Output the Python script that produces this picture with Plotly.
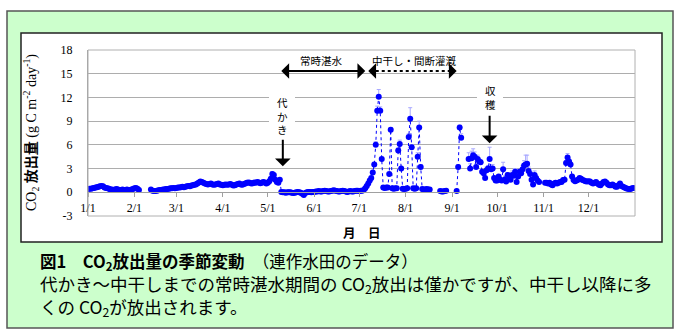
import pandas as pd
import plotly.graph_objects as go

# Daily CO2 efflux (g C m-2 day-1) from a continuously cropped paddy field.
# None marks days with no measurement.
jan = [0.4, 0.45, 0.45, 0.5, 0.55, 0.6, 0.65, 0.7, 0.75, 0.8, 0.75, 0.6, 0.55, 0.5, 0.45, 0.35,
       0.35, 0.3, 0.35, 0.4, 0.35, 0.3, 0.3, 0.35, 0.3, 0.3, 0.35, 0.3, 0.3, 0.35, 0.4]
feb = [0.5, 0.55, 0.45, 0.3, None, None, None, None, None, None, None,
       0.35, 0.2, 0.15, 0.15, 0.2, 0.25, 0.3, 0.3, 0.35, 0.35, 0.4, 0.4, 0.45, 0.5, 0.5, 0.55, 0.5]
mar = [0.55, 0.6, 0.6, 0.65, 0.7, 0.65, 0.7, 0.75, 0.8, 0.75, 0.85, 0.9, 0.95, 1.0, 1.1, 1.25,
       1.35, 1.3, 1.2, 1.1, 1.05, 1.0, 1.05, 1.1, 1.0, 0.95, 1.0, 1.05, 1.1, 1.0, 0.95]
apr = [0.9, 0.95, 1.0, 0.95, 1.0, 1.05, 0.95, 0.85, 0.9, 1.0, 1.05, 1.1, 1.0, 0.95, 1.05,
       1.1, 1.2, 1.25, 1.2, 1.1, 1.15, 1.25, 1.2, 1.3, 1.25, 1.15, 1.2, 1.3, 1.25, 1.1]
may = [1.2, 1.4, 1.7, 2.3, 2.2, 1.6, 1.3, 1.2, 1.6, 0.05, 0.0, 0.0, -0.05, 0.0, 0.0, 0.0,
       -0.05, -0.1, -0.05, 0.0, 0.05, 0.0, -0.05, -0.2, -0.35, -0.1, 0.0, 0.05, 0.05, 0.0, 0.05]
jun = [0.05, 0.1, 0.1, 0.15, 0.1, 0.1, 0.15, 0.2, 0.15, 0.1, 0.1, 0.15, 0.2, 0.25, 0.2,
       0.15, 0.1, 0.1, 0.15, 0.2, 0.15, 0.1, 0.05, 0.1, 0.15, 0.1, 0.1, 0.15, 0.2, 0.2]
jul = [0.15, 0.2, 0.2, 0.3, 0.5, 0.8, 1.1, 1.5, 1.8, 2.5, 3.5, 6.0, 10.3, 12.1, 10.3, 4.2,
       0.6, 0.55, 0.6, 0.6, 2.3, 7.9, 0.5, 0.45, 0.5, 0.5, 5.3, 6.1, 3.0, 0.45, 0.4]
aug = [0.45, 0.5, 7.0, 9.3, 5.7, 0.5, 0.45, 0.5, 4.5, 8.2, 3.2, 0.4, 0.35, 0.35, 0.4, 0.35,
       0.35, None, None, None, None, None, None, 0.15, 0.1, 0.1, 0.15, 0.2, None, None, None]
sep = [None, None, None, 0.15, 3.2, 8.2, 6.9, None, None, None, None, 4.2, 3.0, 4.3, 4.7,
       4.5, 3.2, 4.2, 3.9, 3.8, 2.6, 2.4, 1.8, 2.8, 3.0, 4.2, 2.9, 3.0, 1.8, 1.5]
oct_ = [1.5, 2.0, 1.6, 1.5, 2.9, 1.6, 1.35, 2.2, 2.0, 1.6, 2.2, 2.1, 2.6, 1.3, 2.0, 2.6,
        2.4, 2.9, 3.4, 3.5, 3.6, 2.7, 2.3, 1.6, 1.0, 2.2, 1.8, 1.5, 1.3, None, None]
nov = [None, 1.2, 1.2, 1.1, 1.2, 1.0, 0.9, 1.1, 1.2, 1.1, 1.2, 1.3, 1.3, 1.55, 1.6, 3.7,
       4.4, 3.9, 3.5, 2.0, 1.55, 1.4, 1.5, 1.6, 1.8, 1.7, 1.55, 1.5, 1.4, 1.35]
dec = [1.4, 1.35, 1.2, 1.1, 1.2, 1.3, 1.1, 0.95, 0.9, 1.1, 1.3, 1.35, 1.2, 1.0, 0.9, 0.9,
       1.0, 0.85, 0.7, 0.7, 0.9, 1.1, 0.8, 0.7, 0.6, 0.5, 0.45, 0.4, 0.4, 0.5, 0.55]

# Upper standard deviations on selected days (month-day)
err_dates = ["05-04", "05-05", "07-11", "07-12", "07-13", "07-14", "07-15", "07-22", "07-27",
             "07-28", "08-03", "08-04", "08-05", "08-09", "08-10", "08-11", "09-05", "09-06",
             "09-07", "09-12", "09-13", "09-14", "09-15", "09-16", "09-17", "09-18", "09-19",
             "09-20", "09-24", "09-25", "09-26", "09-27", "09-28", "10-05", "10-08", "10-11",
             "10-13", "10-16", "10-18", "10-19", "10-20", "10-21", "10-22", "10-26", "10-27",
             "11-16", "11-17", "11-18"]
err_sizes = [0.3, 0.2, 0.3, 0.4, 0.6, 0.9, 0.5, 0.3, 0.3,
             0.5, 0.4, 1.4, 0.3, 0.5, 0.8, 0.3, 0.3, 0.3,
             0.5, 0.8, 0.6, 0.9, 0.8, 0.6, 0.4, 0.5, 0.4,
             0.3, 0.4, 0.4, 1.5, 0.6, 0.5, 0.9, 0.3, 0.5,
             0.4, 0.3, 0.5, 0.6, 1.2, 1.1, 0.5, 0.5, 0.4,
             0.3, 0.5, 0.3]

month_labels = ["1/1", "2/1", "3/1", "4/1", "5/1", "6/1", "7/1", "8/1", "9/1", "10/1", "11/1", "12/1"]
y_ticks = [-3, 0, 3, 6, 9, 12, 15, 18]

YEAR = 2003
flux = jan + feb + mar + apr + may + jun + jul + aug + sep + oct_ + nov + dec
dates = pd.date_range(f"{YEAR}-01-01", periods=len(flux), freq="D")
err_map = {pd.Timestamp(f"{YEAR}-{d}"): s for d, s in zip(err_dates, err_sizes)}
err_plus = [err_map.get(d, 0.0) if v is not None else None for d, v in zip(dates, flux)]
err_minus = [0.0] * len(flux)
month_starts = pd.date_range(f"{YEAR}-01-01", periods=12, freq="MS")

# Plot-area geometry in pixels (figure is 680 x 335)
PL, PR, PT, PB = 88, 635, 50, 216


def xp(px):
    return (px - PL) / (PR - PL)


def yp(py):
    return (PB - py) / (PB - PT)


JP = "Noto Sans CJK JP"
SERIF = "Liberation Serif"

fig = go.Figure()
fig.add_trace(go.Scatter(
    x=dates, y=flux, mode="lines+markers", connectgaps=False,
    line=dict(color="#0000FF", width=1, dash="dot"),
    marker=dict(color="#0000FF", size=6),
    error_y=dict(type="data", symmetric=False, array=err_plus, arrayminus=err_minus,
                 color="#A8A8FF", thickness=1, width=2),
    showlegend=False, hoverinfo="skip",
))

shapes = [
    # green panel and white chart frame
    dict(type="rect", xref="paper", yref="paper", x0=xp(7), x1=xp(673), y0=yp(328), y1=yp(11),
         fillcolor="#CCFFCC", line=dict(color="#555555", width=1.5), layer="below"),
    dict(type="rect", xref="paper", yref="paper", x0=xp(21), x1=xp(662), y0=yp(242), y1=yp(33),
         fillcolor="#FFFFFF", line=dict(color="#222222", width=1.5), layer="below"),
    # plot-area border
    dict(type="rect", xref="paper", yref="paper", x0=0, x1=1, y0=0, y1=1,
         line=dict(color="#B0B0B0", width=1)),
    # white boxes behind the vertical event labels
    dict(type="rect", xref="paper", yref="paper", x0=xp(269), x1=xp(295), y0=yp(133), y1=yp(92),
         fillcolor="white", line=dict(width=0)),
    dict(type="rect", xref="paper", yref="paper", x0=xp(477), x1=xp(503), y0=yp(111), y1=yp(83),
         fillcolor="white", line=dict(width=0)),
    # dotted shaft of the intermittent-irrigation period arrow
    dict(type="line", xref="x", yref="y", x0=f"{YEAR}-07-08", x1=f"{YEAR}-09-03", y0=15.35, y1=15.35,
         line=dict(color="black", width=2, dash="dot")),
]


def note(x, y, text, size, xanchor="center", **kw):
    return dict(x=xp(x), y=yp(y), xref="paper", yref="paper", text=text, showarrow=False,
                xanchor=xanchor, yanchor="middle", font=dict(family=JP, size=size, color="black"), **kw)


arrow_y = 15.35
caption = ('<span style="font-size:16.5px"><b>図1　CO<sub>2</sub>放出量の季節変動</b>　（連作水田のデータ）</span>'
           "<br>代かき～中干しまでの常時湛水期間の CO<sub>2</sub>放出は僅かですが、中干し以降に多"
           "<br>くの CO<sub>2</sub>が放出されます。")
annotations = [
    # flooded period (solid double arrow)
    dict(x=f"{YEAR}-07-05", y=arrow_y, ax=f"{YEAR}-05-09", ay=arrow_y, axref="x", ayref="y",
         xref="x", yref="y", text="", showarrow=True, arrowhead=1, arrowsize=1.3, arrowwidth=2,
         arrowside="end+start", arrowcolor="black"),
    # heads for the dotted arrow
    dict(x=f"{YEAR}-07-07", y=arrow_y, ax=8, ay=0, xref="x", yref="y", text="", showarrow=True,
         arrowhead=1, arrowsize=1.3, arrowwidth=2, arrowcolor="black"),
    dict(x=f"{YEAR}-09-04", y=arrow_y, ax=-8, ay=0, xref="x", yref="y", text="", showarrow=True,
         arrowhead=1, arrowsize=1.3, arrowwidth=2, arrowcolor="black"),
    dict(x=f"{YEAR}-06-06", y=arrow_y, xref="x", yref="y", yshift=10, text="常時湛水", showarrow=False,
         xanchor="center", yanchor="middle", font=dict(family=JP, size=10.5, color="black")),
    dict(x=f"{YEAR}-08-07", y=arrow_y, xref="x", yref="y", yshift=10, text="中干し・間断灌漑",
         showarrow=False, xanchor="center", yanchor="middle",
         font=dict(family=JP, size=10.5, color="black")),
    # puddling and harvest markers
    dict(x=f"{YEAR}-05-11", y=3.3, ax=0, ay=-28, xref="x", yref="y", text="", showarrow=True,
         arrowhead=1, arrowsize=1.3, arrowwidth=2, arrowcolor="black"),
    note(282, 116, "代<br>か<br>き", 10.5),
    dict(x=f"{YEAR}-09-26", y=6.2, ax=0, ay=-29, xref="x", yref="y", text="", showarrow=True,
         arrowhead=1, arrowsize=1.3, arrowwidth=2, arrowcolor="black"),
    note(490, 97, "収<br>穫", 10.5),
    # axis titles
    note(30, 133, (f'<span style="font-family:{SERIF}">CO<sub>2</sub> </span><b>放出量</b>'
                   f'<span style="font-family:{SERIF}"> (g C m<sup>-2</sup> day<sup>-1</sup>)</span>'),
         14, textangle=-90),
    note(362, 232, "<b>月　日</b>", 12.5),
    # caption
    note(38, 285, caption, 17.5, xanchor="left", align="left"),
]

fig.update_layout(
    width=680, height=335,
    margin=dict(l=PL, r=680 - PR, t=PT, b=335 - PB, pad=0),
    paper_bgcolor="white", plot_bgcolor="white",
    shapes=shapes, annotations=annotations,
    xaxis=dict(type="date", range=[f"{YEAR}-01-01", f"{YEAR + 1}-01-01"],
               tickvals=month_starts, ticktext=month_labels,
               anchor="free", position=3 / 21,
               showline=True, linecolor="#A0A0A0", linewidth=1,
               ticks="outside", ticklen=4, tickcolor="#A0A0A0",
               showgrid=False, zeroline=False,
               tickfont=dict(family=SERIF, size=12, color="black")),
    yaxis=dict(range=[-3, 18], tickvals=y_ticks, ticktext=[str(t) for t in y_ticks],
               showgrid=True, gridcolor="#ADADAD", gridwidth=1, zeroline=False,
               showline=True, linecolor="#A0A0A0",
               ticks="outside", ticklen=12, tickcolor="rgba(0,0,0,0)",
               tickfont=dict(family=SERIF, size=12, color="black")),
)

fig.write_html("out.html")
